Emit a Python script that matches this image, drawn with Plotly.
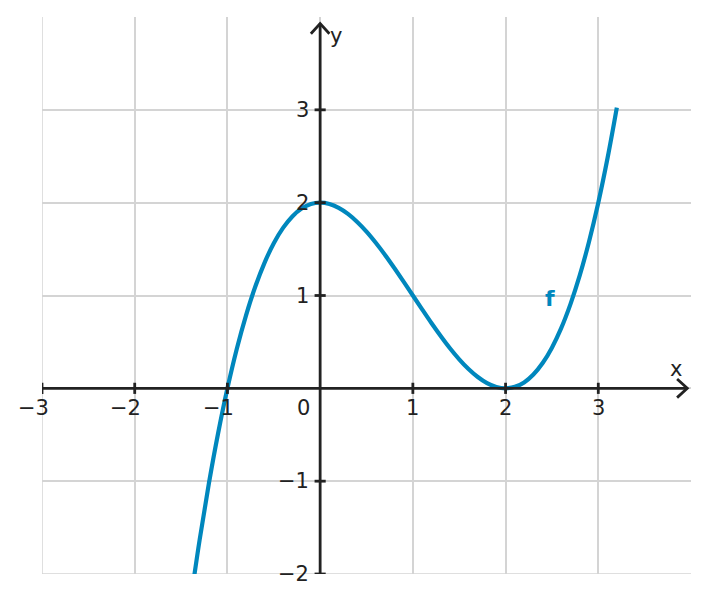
import plotly.graph_objects as go

# Curve samples
x_vals = [-1.4, -1.3, -1.2, -1.1, -1.0, -0.9, -0.8, -0.7, -0.6, -0.5, -0.4, -0.3, -0.2, -0.1,
          0.0, 0.1, 0.2, 0.3, 0.4, 0.5, 0.6, 0.7, 0.8, 0.9, 1.0, 1.1, 1.2, 1.3, 1.4, 1.5,
          1.6, 1.7, 1.8, 1.9, 2.0, 2.1, 2.2, 2.3, 2.4, 2.5, 2.6, 2.7, 2.8, 2.9, 3.0, 3.1, 3.2]
y_vals = [-2.312, -1.634, -1.024, -0.481, 0.0, 0.421, 0.784, 1.094, 1.352, 1.563, 1.728, 1.852, 1.936, 1.985,
          2.0, 1.986, 1.944, 1.879, 1.792, 1.688, 1.568, 1.437, 1.296, 1.150, 1.0, 0.851, 0.704, 0.564, 0.432, 0.313,
          0.208, 0.122, 0.056, 0.015, 0.0, 0.016, 0.064, 0.149, 0.272, 0.438, 0.648, 0.907, 1.216, 1.580, 2.0, 2.481, 3.024]

x_ticks = [-3, -2, -1, 1, 2, 3]
y_ticks = [-2, -1, 1, 2, 3]
x_tick_labels = ["−3", "−2", "−1", "1", "2", "3"]
y_tick_labels = ["−2", "−1", "1", "2", "3"]

X_MIN, X_MAX = -3, 4
Y_MIN, Y_MAX = -2, 4
X_TIP, Y_TIP = 3.96, 3.93

curve_color = "#0087bd"
axis_color = "#222222"
text_color = "#222222"
grid_color = "#d4d4d4"
font_family = "DejaVu Sans"

fig = go.Figure()
fig.add_trace(go.Scatter(x=x_vals, y=y_vals, mode="lines", line=dict(color=curve_color, width=4.2, shape="spline"),
                         hoverinfo="skip", showlegend=False, cliponaxis=True))

shapes = []
# edge grid lines (plotly hides gridlines on the plot edge)
shapes.append(dict(type="line", xref="x", yref="y", x0=X_MIN, x1=X_MIN, y0=Y_MIN, y1=Y_MAX,
                   line=dict(color=grid_color, width=1.5), layer="below"))
shapes.append(dict(type="line", xref="x", yref="y", x0=X_MIN, x1=X_MAX, y0=Y_MIN, y1=Y_MIN,
                   line=dict(color=grid_color, width=1.5), layer="below"))
# axes
shapes.append(dict(type="line", xref="x", yref="y", x0=X_MIN, x1=X_TIP, y0=0, y1=0,
                   line=dict(color=axis_color, width=2.8), layer="above"))
shapes.append(dict(type="line", xref="x", yref="y", x0=0, x1=0, y0=Y_MIN, y1=Y_TIP,
                   line=dict(color=axis_color, width=2.8), layer="above"))
# arrowheads
ax_back, ax_half = 0.11, 0.1
shapes.append(dict(type="path", xref="x", yref="y",
                   path=f"M {X_TIP-ax_back},{ax_half} L {X_TIP},0 L {X_TIP-ax_back},{-ax_half}",
                   line=dict(color=axis_color, width=2.8), layer="above"))
shapes.append(dict(type="path", xref="x", yref="y",
                   path=f"M {-ax_half},{Y_TIP-ax_back} L 0,{Y_TIP} L {ax_half},{Y_TIP-ax_back}",
                   line=dict(color=axis_color, width=2.8), layer="above"))
# tick marks
tl = 0.06
for v in x_ticks:
    shapes.append(dict(type="line", xref="x", yref="y", x0=v, x1=v, y0=-tl, y1=tl,
                       line=dict(color=axis_color, width=2.8), layer="above"))
for v in y_ticks:
    shapes.append(dict(type="line", xref="x", yref="y", x0=-tl, x1=tl, y0=v, y1=v,
                       line=dict(color=axis_color, width=2.8), layer="above"))

annotations = []
fnt = dict(family=font_family, size=21, color=text_color)
for v, t in zip(x_ticks, x_tick_labels):
    annotations.append(dict(x=v, y=0, xref="x", yref="y", text=t, showarrow=False, font=fnt,
                            xanchor="center", yanchor="middle", yshift=-20,
                            xshift=-9 if t.startswith("−") else 0))
for v, t in zip(y_ticks, y_tick_labels):
    annotations.append(dict(x=0, y=v, xref="x", yref="y", text=t, showarrow=False, font=fnt,
                            xanchor="right", yanchor="middle", xshift=-9))
annotations.append(dict(x=0, y=0, xref="x", yref="y", text="0", showarrow=False, font=fnt,
                        xanchor="center", yanchor="middle", xshift=-17, yshift=-20))
annotations.append(dict(x=3.84, y=0.21, xref="x", yref="y", text="x", showarrow=False,
                        font=dict(family=font_family, size=21, color=text_color)))
annotations.append(dict(x=0.17, y=3.80, xref="x", yref="y", text="y", showarrow=False,
                        font=dict(family=font_family, size=21, color=text_color)))
annotations.append(dict(x=2.48, y=0.97, xref="x", yref="y", text="<b>f</b>", showarrow=False,
                        font=dict(family=font_family, size=22, color=curve_color)))

fig.update_layout(
    width=702, height=595,
    margin=dict(l=34, r=19, t=9, b=29),
    paper_bgcolor="white", plot_bgcolor="white",
    shapes=shapes, annotations=annotations,
    xaxis=dict(range=[X_MIN, X_MAX], tickvals=[-3, -2, -1, 0, 1, 2, 3], showticklabels=False,
               showgrid=True, gridcolor=grid_color, gridwidth=1.5, zeroline=False, showline=False, fixedrange=True),
    yaxis=dict(range=[Y_MIN, Y_MAX], tickvals=[-2, -1, 0, 1, 2, 3], showticklabels=False,
               showgrid=True, gridcolor=grid_color, gridwidth=1.5, zeroline=False, showline=False, fixedrange=True),
)

fig.write_html("out.html")
